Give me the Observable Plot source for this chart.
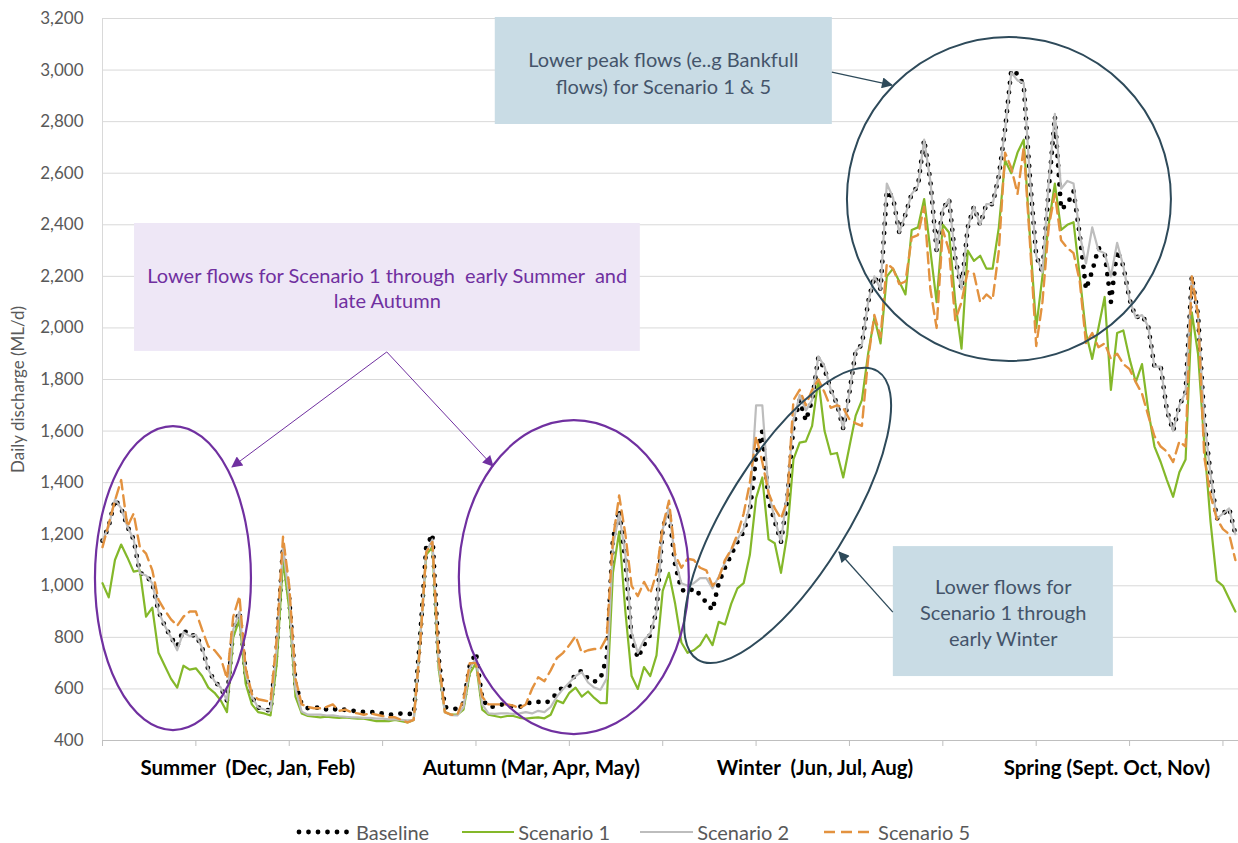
<!DOCTYPE html>
<html>
<head>
<meta charset="utf-8">
<script src="https://cdn.jsdelivr.net/npm/d3@7"></script>
<script src="https://cdn.jsdelivr.net/npm/@observablehq/plot@0.6"></script>
<style>
  html, body { margin: 0; padding: 0; background: #fff; }
  body { font-family: Lato, "Open Sans", sans-serif; width: 1238px; }
  #legend { position: relative; height: 43px; display: flex; align-items: center;
            padding-left: 296px; box-sizing: border-box; padding-top: 21px;
            font-size: 20px; color: #595959; }
  #legend .item { display: flex; align-items: center; }
  #legend svg { display: block; }
</style>
</head>
<body>
<div id="chart"></div>
<div id="legend"></div>
<script>
// Sample days (every second day, day 0 = 1 December)
const day = d3.range(0, 365, 2);

// Daily discharge (ML/d) per scenario
const baseline = [
  1175,1230,1335,1300,1230,1180,1050,1040,1010,900,845,800,765,830,805,810,760,675,630,605,
  555,830,900,660,570,528,520,516,760,1150,950,620,540,525,525,530,520,525,515,520,
  515,515,510,512,505,505,500,500,505,505,500,790,1150,1200,720,530,523,523,545,690,
  740,560,530,532,540,535,530,530,540,550,550,545,555,585,608,612,660,670,640,628,
  640,720,1180,1295,1100,800,720,770,810,900,1226,1290,1080,985,975,990,965,935,905,1010,
  1070,1120,1170,1210,1290,1500,1600,1330,1250,1170,1330,1620,1720,1640,1720,1885,1840,1760,1705,1610,
  1750,1910,1935,2100,2200,2150,2530,2505,2370,2440,2520,2550,2730,2570,2300,2460,2500,2270,2150,2390,
  2470,2400,2480,2480,2590,2770,3000,2985,2940,2580,2280,2215,2535,2820,2460,2480,2530,2360,2150,2220,
  2310,2290,2100,2300,2240,2110,2040,2050,2005,1850,1850,1680,1600,1700,1750,2200,2050,1640,1435,1260,
  1280,1300,1200
];
const scenario1 = [
  1010,955,1100,1160,1110,1055,1060,880,915,740,690,640,605,690,675,680,650,605,585,555,
  510,800,870,620,540,510,505,497,700,1100,910,570,505,495,492,490,492,490,488,490,
  487,485,485,480,475,475,475,480,475,470,480,780,1120,1150,680,510,500,500,520,660,
  700,520,500,495,490,495,495,488,485,488,490,486,500,555,545,585,605,570,590,565,
  545,545,1050,1210,900,650,600,685,650,730,980,1050,930,780,740,750,770,810,770,860,
  850,930,990,1010,1120,1340,1420,1180,1165,1050,1200,1490,1555,1560,1620,1800,1600,1510,1515,1420,
  1540,1660,1720,1900,2040,1940,2200,2230,2180,2130,2380,2390,2500,2300,2100,2400,2370,2100,1920,2300,
  2260,2280,2230,2230,2390,2650,2600,2680,2730,2350,2000,2200,2400,2560,2380,2400,2410,2200,1980,1880,
  2000,2120,1760,1980,1990,1880,1790,1860,1680,1540,1480,1410,1345,1440,1490,2060,1900,1550,1250,1020,
  1000,950,900
];
const scenario2 = [
  1175,1230,1335,1300,1230,1180,1050,1040,1010,900,845,800,750,820,805,810,760,675,630,605,
  555,830,900,660,570,528,520,516,760,1150,950,600,512,500,500,500,497,498,494,492,
  490,490,488,488,485,485,482,482,480,478,480,780,1130,1180,700,510,498,497,530,680,
  720,540,505,503,505,505,503,505,510,505,515,510,530,570,600,625,650,665,625,605,
  597,640,1150,1280,1120,820,740,790,815,900,1220,1300,1100,1010,1000,1010,1030,1030,990,1035,
  1090,1140,1180,1220,1310,1700,1700,1360,1260,1170,1360,1640,1740,1680,1720,1890,1850,1760,1705,1610,
  1750,1910,1935,2100,2200,2150,2560,2505,2370,2440,2520,2550,2730,2570,2300,2460,2500,2270,2150,2390,
  2470,2400,2480,2480,2590,2770,2990,2960,2950,2580,2280,2215,2560,2830,2540,2570,2560,2360,2250,2390,
  2300,2290,2200,2330,2240,2110,2040,2050,2005,1850,1850,1680,1600,1700,1750,2200,2050,1640,1435,1260,
  1280,1300,1200
];
const scenario5 = [
  1150,1240,1330,1410,1230,1280,1150,1125,1060,945,905,870,845,880,900,900,830,765,750,720,
  640,880,960,680,580,560,555,550,800,1190,1000,640,540,530,525,525,530,540,515,520,
  510,505,500,505,500,495,490,490,480,470,480,760,1130,1170,720,510,500,500,560,700,
  700,570,540,540,540,540,535,525,540,600,645,630,672,720,740,770,805,740,750,755,
  755,800,1180,1350,1200,1000,960,1015,970,1050,1230,1330,1120,1070,1105,1100,1070,1060,1000,1030,
  1100,1140,1200,1280,1400,1580,1480,1360,1300,1260,1330,1720,1760,1700,1760,1800,1750,1690,1700,1690,
  1645,1630,1620,1880,2050,1965,2250,2230,2170,2180,2350,2360,2470,2150,2000,2380,2300,2030,2100,2220,
  2210,2100,2130,2110,2300,2680,2620,2520,2700,2330,1930,2100,2390,2520,2340,2310,2290,2180,1940,1980,
  1925,1940,1880,1900,1860,1840,1790,1745,1660,1580,1540,1520,1480,1560,1540,2200,2050,1500,1350,1260,
  1220,1200,1100
];

const seriesNames = ["Baseline", "Scenario 1", "Scenario 2", "Scenario 5"];
const seriesValues = [baseline, scenario1, scenario2, scenario5];

// Axis ticks and season labels
const yTicks = d3.range(400, 3201, 200);
const xTicks = d3.range(0, 361, 30);
const seasonDays = [46.7, 137.8, 228.9, 322.7];
const seasonLabels = ["Summer\u00a0 (Dec, Jan, Feb)", "Autumn (Mar, Apr, May)", "Winter\u00a0 (Jun, Jul, Aug)", "Spring (Sept. Oct, Nov)"];

// Line styles
const styles = {
  "Baseline":   {stroke: "#000000", strokeWidth: 4.8, strokeDasharray: "0 9.5", strokeLinecap: "round"},
  "Scenario 1": {stroke: "#84B82A", strokeWidth: 2.2},
  "Scenario 2": {stroke: "#BDBDBD", strokeWidth: 2.2},
  "Scenario 5": {stroke: "#E3923F", strokeWidth: 2.4, strokeDasharray: "11 6"}
};

// Annotations (data coordinates: day, ML/d)
const purple = "#7030A0", slate = "#2E4A5A";
const boxes = [
  {x1: 10.3, x2: 172.8, y1: 1909, y2: 2405, fill: "#EEE7F6"},
  {x1: 126.2, x2: 234.5, y1: 2789, y2: 3204, fill: "#C9DCE5"},
  {x1: 254.1, x2: 324.8, y1: 648, y2: 1152, fill: "#C9DCE5"}
];
const notes = [
  {x: 91.5, y: 2155, text: "Lower flows for Scenario 1 through  early Summer  and\nlate Autumn", fill: purple, lh: 1.25},
  {x: 180.2, y: 2992, text: "Lower peak flows (e..g Bankfull\nflows) for Scenario 1 & 5", fill: "#44546A", lh: 1.35},
  {x: 289.4, y: 900, text: "Lower flows for\nScenario 1 through\nearly Winter", fill: "#44546A", lh: 1.3}
];
const ellipses = [
  {x: 22.8, y: 1028, rx: 78, ry: 152, angle: 0, stroke: purple, width: 2.2},
  {x: 151.6, y: 1032, rx: 115, ry: 157, angle: 0, stroke: purple, width: 2.2},
  {x: 220.3, y: 1271, rx: 170, ry: 60, angle: -58, stroke: slate, width: 2},
  {x: 291.4, y: 2498, rx: 162, ry: 162, angle: 0, stroke: slate, width: 2}
];
const arrows = [
  {x1: 91.5, y1: 1905, x2: 41.8, y2: 1459, stroke: purple, width: 1},
  {x1: 91.5, y1: 1905, x2: 125.6, y2: 1463, stroke: purple, width: 1},
  {x1: 234.5, y1: 2990, x2: 253.8, y2: 2940, stroke: slate, width: 1.3},
  {x1: 254.1, y1: 896, x2: 236.8, y2: 1129, stroke: slate, width: 1.3}
];

const rows = seriesNames.flatMap((name, k) =>
  seriesValues[k].map((v, i) => ({day: day[i], flow: v, series: name})));

// Ellipses and arrows with filled heads, placed through the x/y scales
function shapes(index, scales) {
  const {x, y} = scales;
  const g = d3.create("svg:g");
  const defs = g.append("defs");
  [["headPurple", purple], ["headSlate", slate]].forEach(([id, c]) => {
    defs.append("marker").attr("id", id).attr("viewBox", "0 0 10 10")
      .attr("refX", 9).attr("refY", 5).attr("markerUnits", "userSpaceOnUse")
      .attr("markerWidth", 13).attr("markerHeight", 11).attr("orient", "auto")
      .append("path").attr("d", "M0,0L10,5L0,10Z").attr("fill", c);
  });
  for (const e of ellipses) {
    const cx = x(e.x), cy = y(e.y);
    g.append("ellipse").attr("cx", cx).attr("cy", cy).attr("rx", e.rx).attr("ry", e.ry)
      .attr("transform", `rotate(${e.angle} ${cx} ${cy})`)
      .attr("fill", "none").attr("stroke", e.stroke).attr("stroke-width", e.width);
  }
  for (const a of arrows) {
    g.append("line").attr("x1", x(a.x1)).attr("y1", y(a.y1)).attr("x2", x(a.x2)).attr("y2", y(a.y2))
      .attr("stroke", a.stroke).attr("stroke-width", a.width)
      .attr("marker-end", `url(#${a.stroke === purple ? "headPurple" : "headSlate"})`);
  }
  return g.node();
}

const chart = Plot.plot({
  width: 1238,
  height: 800,
  marginTop: 18,
  marginBottom: 60,
  marginLeft: 102,
  marginRight: 0,
  style: {fontFamily: "Lato, 'Open Sans', sans-serif", background: "#fff", color: "#595959", overflow: "visible"},
  x: {domain: [0, 365], axis: null},
  y: {domain: [400, 3200], axis: null},
  marks: [
    Plot.gridY(yTicks, {stroke: "#D9D9D9", strokeOpacity: 1, strokeWidth: 1}),
    Plot.ruleX([0], {stroke: "#D9D9D9"}),
    Plot.ruleY([400], {stroke: "#BFBFBF", strokeWidth: 1.2}),
    Plot.axisY(yTicks, {tickSize: 0, tickPadding: 19, tickFormat: d3.format(","), fontSize: 17, fill: "#595959", label: null}),
    Plot.axisX(xTicks, {tickSize: 6, tickFormat: () => "", stroke: "#BFBFBF", label: null}),
    Plot.axisX(seasonDays, {tickSize: 0, tickPadding: 20, tickFormat: d => seasonLabels[seasonDays.indexOf(d)],
      fontSize: 20.5, fontWeight: "bold", fill: "#000", label: null}),
    Plot.text(["Daily discharge (ML/d)"], {frameAnchor: "left", textAnchor: "middle", rotate: -90, dx: -84, dy: 10,
      fontSize: 17, fill: "#595959"}),
    ...seriesNames.map(name => Plot.line(rows.filter(r => r.series === name),
      {x: "day", y: "flow", ...styles[name]})),
    Plot.rect(boxes, {x1: "x1", x2: "x2", y1: "y1", y2: "y2", fill: "fill"}),
    ...notes.map(n => Plot.text([n], {x: "x", y: "y", text: "text", fill: n.fill, fontSize: 20, lineHeight: n.lh})),
    shapes
  ]
});
document.getElementById("chart").append(chart);

// Legend below the chart
const legend = d3.select("#legend");
const swatchW = {"Baseline": 56, "Scenario 1": 52, "Scenario 2": 53, "Scenario 5": 46};
const gapAfter = {"Baseline": 33, "Scenario 1": 30, "Scenario 2": 35, "Scenario 5": 0};
seriesNames.forEach(name => {
  const s = styles[name];
  const item = legend.append("div").attr("class", "item").style("margin-right", gapAfter[name] + "px");
  const sw = item.append("svg").attr("width", swatchW[name]).attr("height", 12)
    .style("margin-right", name === "Scenario 5" ? "8px" : "4px");
  sw.append("line").attr("x1", name === "Baseline" ? 3 : 0).attr("x2", swatchW[name]).attr("y1", 6).attr("y2", 6)
    .attr("stroke", s.stroke).attr("stroke-width", s.strokeWidth)
    .attr("stroke-dasharray", s.strokeDasharray || null)
    .attr("stroke-linecap", s.strokeLinecap || "butt");
  item.append("span").text(name);
});
</script>
</body>
</html>
